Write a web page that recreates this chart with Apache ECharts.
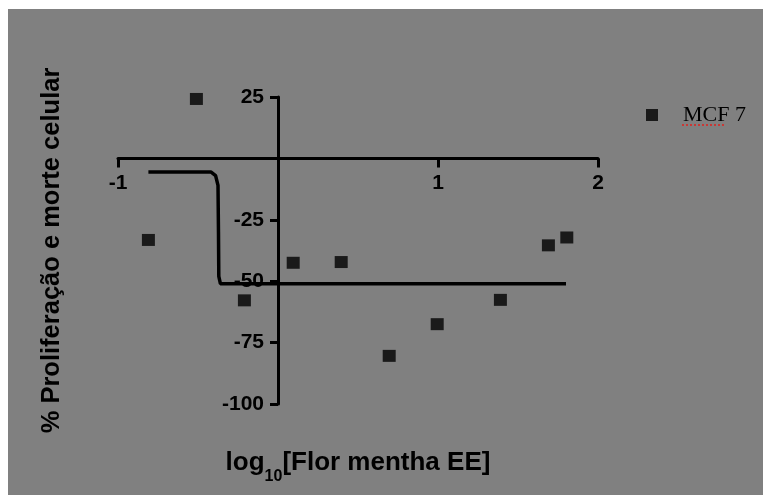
<!DOCTYPE html>
<html>
<head>
<meta charset="utf-8">
<script src="https://cdn.jsdelivr.net/npm/echarts@6/dist/echarts.min.js"></script>
<style>
  html, body { margin: 0; padding: 0; background: #ffffff; }
  .wrap { position: relative; width: 763px; height: 495px; background: #ffffff; }
  #chart { position: absolute; left: 8px; top: 9px; width: 755px; height: 486px; background: #808080; }
</style>
</head>
<body>
<div class="wrap"><div id="chart"></div></div>
<script>
// 数据点 MCF 7
const pointX = [-0.81, -0.51, -0.21, 0.095, 0.395, 0.695, 0.995, 1.39, 1.69, 1.805];
const pointY = [-33.2, 24.2, -57.8, -42.5, -42.2, -80.4, -67.5, -57.6, -35.4, -32.2];

// 拟合曲线
const curveX = [-0.81, -0.42, -0.39, -0.375, -0.372, -0.37, -0.36, -0.34, 1.80];
const curveY = [-5.5, -5.5, -7, -11, -30, -48, -51, -51, -51];

const xTicks = [-1, 0, 1, 2];
const yTicks = [-100, -75, -50, -25, 0, 25];

const font = 'Liberation Sans, Arial, sans-serif';
const gridW = 480;
const gridH = 307;

const chart = echarts.init(document.getElementById('chart'));

// 坐标轴交叉于 0：用 offset 把轴线移到 0 处
const yMin = yTicks[0];
const yMax = yTicks[yTicks.length - 1];
const xMin = xTicks[0];
const xMax = xTicks[xTicks.length - 1];
const xAxisOffset = -gridH * (0 - yMin) / (yMax - yMin);
const yAxisOffset = -gridW * (0 - xMin) / (xMax - xMin);

chart.setOption({
  backgroundColor: 'transparent',
  animation: false,
  legend: {
    left: 638,
    top: 95,
    padding: 0,
    icon: 'rect',
    itemWidth: 12,
    itemHeight: 12,
    textStyle: {
      color: '#000',
      fontFamily: 'Liberation Serif, Times New Roman, serif',
      fontSize: 22,
      padding: [0, 0, 0, 20]
    },
    data: ['MCF 7']
  },
  // 拼写检查的红色虚线
  graphic: [{
    type: 'line',
    shape: { x1: 674, y1: 116, x2: 718, y2: 116 },
    style: { stroke: '#e0201c', lineWidth: 1.5, lineDash: [2, 2] }
  }],
  grid: {
    left: 110,
    top: 88,
    width: gridW,
    height: gridH,
    containLabel: false,
    outerBoundsMode: 'none'
  },
  xAxis: {
    type: 'value',
    position: 'bottom',
    offset: xAxisOffset,
    min: xMin,
    max: xMax,
    interval: 1,
    name: '{a|log}{b|10}{a|[Flor mentha EE]}',
    nameLocation: 'middle',
    nameGap: 291,
    nameTextStyle: {
      rich: {
        a: { fontFamily: font, fontWeight: 'bold', fontSize: 26, color: '#000' },
        b: { fontFamily: font, fontWeight: 'bold', fontSize: 16, color: '#000', verticalAlign: 'bottom', padding: [0, 0, -9, 0] }
      }
    },
    axisLine: { onZero: false, lineStyle: { color: '#000', width: 3 } },
    axisTick: { show: true, length: 9, lineStyle: { color: '#000', width: 3 } },
    axisLabel: {
      margin: 14,
      color: '#000',
      fontFamily: font,
      fontWeight: 'bold',
      fontSize: 21,
      formatter: v => (v === 0 ? '' : String(v))
    },
    splitLine: { show: false }
  },
  yAxis: {
    type: 'value',
    position: 'left',
    offset: yAxisOffset,
    min: yMin,
    max: yMax,
    interval: 25,
    name: '% Proliferação e morte celular',
    nameLocation: 'middle',
    nameGap: 213,
    nameRotate: 90,
    nameTextStyle: { fontFamily: font, fontWeight: 'bold', fontSize: 25.5, color: '#000' },
    axisLine: { onZero: false, lineStyle: { color: '#000', width: 3 } },
    axisTick: { show: true, length: 8, lineStyle: { color: '#000', width: 3 } },
    axisLabel: {
      margin: 14,
      color: '#000',
      fontFamily: font,
      fontWeight: 'bold',
      fontSize: 21,
      formatter: v => (v === 0 ? '' : String(v))
    },
    splitLine: { show: false }
  },
  series: [
    {
      name: 'MCF 7',
      type: 'scatter',
      symbol: 'rect',
      symbolSize: [13, 12],
      itemStyle: { color: '#000' },
      data: pointX.map((x, i) => [x, pointY[i]])
    },
    {
      name: 'fit',
      type: 'line',
      showSymbol: false,
      symbol: 'none',
      lineStyle: { color: '#000', width: 3.5 },
      data: curveX.map((x, i) => [x, curveY[i]])
    }
  ]
});
</script>
</body>
</html>
